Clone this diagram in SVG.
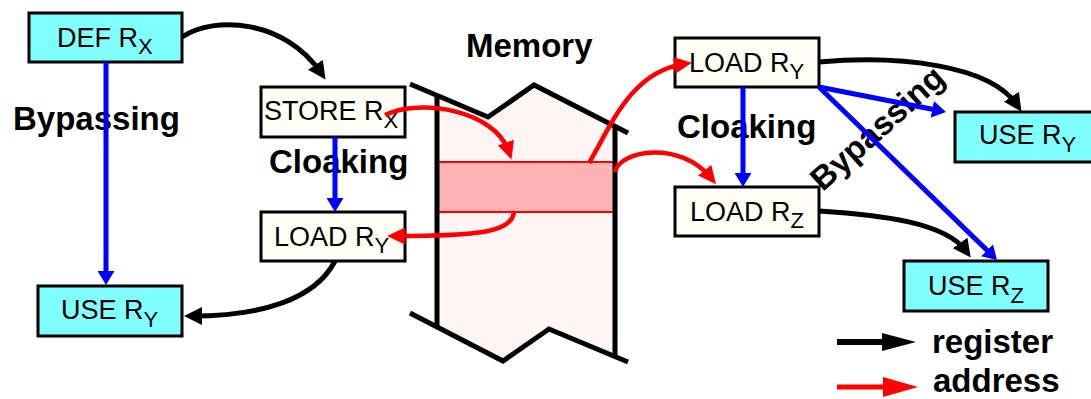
<svg xmlns="http://www.w3.org/2000/svg" width="1091" height="399" viewBox="0 0 1091 399">
<style>
.box rect{stroke:#000;stroke-width:3}
.use rect{fill:#80FFFF}
.op rect{fill:#FFFEF5}
.nt{font-family:"Liberation Sans",Arial,sans-serif;font-size:27px;fill:#000}
.sub{font-size:22px}
.lbl{font-family:"Liberation Sans",Arial,sans-serif;font-size:33px;font-weight:bold;fill:#000}
.reg{fill:none;stroke:#000;stroke-width:5;marker-end:url(#mk)}
.adr{fill:none;stroke:#F00;stroke-width:4.5;marker-end:url(#mr)}
.byp{fill:none;stroke:#00F;stroke-width:5;marker-end:url(#mb)}
.wall{fill:none;stroke:#000;stroke-width:5}
</style>
<defs>
<marker id="mk" markerUnits="userSpaceOnUse" markerWidth="18" markerHeight="18" viewBox="0 0 18 18" refX="10" refY="9" orient="auto"><path d="M0,0 L18,9 L0,18 z" fill="#000"/></marker>
<marker id="mr" markerUnits="userSpaceOnUse" markerWidth="18" markerHeight="17" viewBox="0 0 18 17" refX="10" refY="8.5" orient="auto"><path d="M0,0 L18,8.5 L0,17 z" fill="#F00"/></marker>
<marker id="mb" markerUnits="userSpaceOnUse" markerWidth="14" markerHeight="17" viewBox="0 0 14 17" refX="8" refY="8.5" orient="auto"><path d="M0,0 L14,8.5 L0,17 z" fill="#00F"/></marker>
</defs>
<rect width="1091" height="399" fill="#fff"/>

<g id="memory">
<polygon points="437,95.4 488,117 534,85 615,126.4 615,356.6 549,329 503,361 437,327" fill="#FFF5F5"/>
<rect x="437" y="162" width="178" height="50" fill="#FFB3B3"/>
<line x1="437" y1="162" x2="615" y2="162" stroke="#F00" stroke-width="2"/>
<line x1="437" y1="212" x2="615" y2="212" stroke="#F00" stroke-width="2"/>
<polyline class="wall" points="410,84 488,117 534,85 628,133"/>
<polyline class="wall" points="410,313 503,361 549,329 628,362"/>
<line class="wall" x1="437" y1="97" x2="437" y2="327"/>
<line class="wall" x1="615" y1="127" x2="615" y2="356"/>
<text class="lbl" x="466" y="57">Memory</text>
</g>

<g id="labels">
<text class="lbl" x="13" y="130">Bypassing</text>
<text class="lbl" x="269" y="173">Cloaking</text>
<text class="lbl" x="677" y="138">Cloaking</text>
<text class="lbl" transform="translate(878,129) rotate(-42)" x="0" y="10" text-anchor="middle">Bypassing</text>
</g>

<g id="def-rx" class="box use"><rect x="29" y="13" width="153" height="49"/><text class="nt" x="57" y="47">DEF R<tspan class="sub" dy="7">X</tspan></text></g>
<g id="use-ry-left" class="box use"><rect x="38" y="286" width="144" height="50"/><text class="nt" x="61" y="319">USE R<tspan class="sub" dy="8">Y</tspan></text></g>
<g id="store-rx" class="box op"><rect x="261" y="87" width="144" height="50"/><text class="nt" x="264" y="120">STORE R<tspan class="sub" dy="8">X</tspan></text></g>
<g id="load-ry-left" class="box op"><rect x="261" y="212" width="144" height="49"/><text class="nt" x="274" y="246">LOAD R<tspan class="sub" dy="7">Y</tspan></text></g>
<g id="load-ry-right" class="box op"><rect x="675" y="38" width="144" height="49"/><text class="nt" x="689" y="72">LOAD R<tspan class="sub" dy="7">Y</tspan></text></g>
<g id="load-rz" class="box op"><rect x="675" y="187" width="144" height="49"/><text class="nt" x="690" y="221">LOAD R<tspan class="sub" dy="7">Z</tspan></text></g>
<g id="use-ry-right" class="box use"><rect x="955" y="112" width="145" height="50"/><text class="nt" x="979" y="144">USE R<tspan class="sub" dy="8">Y</tspan></text></g>
<g id="use-rz" class="box use"><rect x="904" y="261" width="144" height="50"/><text class="nt" x="928" y="295">USE R<tspan class="sub" dy="8">Z</tspan></text></g>

<g id="connectors">
<path class="byp" d="M106,62 L106,279"/>
<path class="byp" d="M335,137 L335,206"/>
<path class="byp" d="M743,87 L743,181"/>
<path class="byp" d="M819,87 L940.1,110.8"/>
<path class="byp" d="M819,87 L992.7,255.8"/>
<path class="reg" d="M182,37 C215,15 285,20 321,73"/>
<path class="reg" d="M335,261 C315,300 260,316 192,316"/>
<path class="reg" d="M819,62 C900,55 990,65 1017,105"/>
<path class="reg" d="M819,211 C880,215 945,222 966,251"/>
<path class="adr" d="M385,115 C420,98 495,110 509,152"/>
<path class="adr" d="M514,212 C512,232 480,236 395,236"/>
<path class="adr" d="M589,163 C610,128 630,72 684,64"/>
<path class="adr" d="M615,172 C620,150 680,140 711,178"/>
</g>

<g id="legend">
<line x1="837" y1="342" x2="884" y2="342" stroke="#000" stroke-width="6"/>
<polygon points="882,333 916,342 882,351" fill="#000"/>
<text class="lbl" x="932" y="353">register</text>
<line x1="837" y1="387" x2="885" y2="387" stroke="#F00" stroke-width="5"/>
<polygon points="883,377 918,387 883,397" fill="#F00"/>
<text class="lbl" x="933" y="392">address</text>
</g>
</svg>
